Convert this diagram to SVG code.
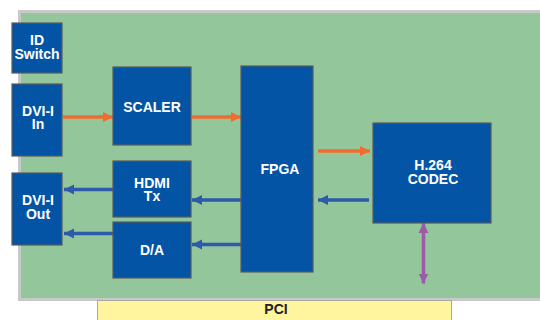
<svg xmlns="http://www.w3.org/2000/svg" width="540" height="320" viewBox="0 0 540 320">
<defs>
<style>
.box{fill:#0454A5;stroke:#5a5a5a;stroke-width:1.2}
.lbl{font-family:"Liberation Sans",Arial,sans-serif;font-weight:bold;font-size:14px;fill:#fff;text-anchor:middle}
.or{stroke:#F26B2E;stroke-width:3.5;fill:none}
.bl{stroke:#2D5AAA;stroke-width:3.5;fill:none}
.pu{stroke:#9C5AA8;stroke-width:3.5;fill:none}
</style>
<marker id="ao" markerUnits="userSpaceOnUse" markerWidth="12" markerHeight="12" refX="10" refY="5" orient="auto"><path d="M0,0 L10,5 L0,10 z" fill="#F26B2E"/></marker>
<marker id="ab" markerUnits="userSpaceOnUse" markerWidth="12" markerHeight="12" refX="10" refY="5" orient="auto"><path d="M0,0 L10,5 L0,10 z" fill="#2D5AAA"/></marker>
<marker id="ap" markerUnits="userSpaceOnUse" markerWidth="12" markerHeight="12" refX="10" refY="5" orient="auto"><path d="M0,0 L10,5 L0,10 z" fill="#9C5AA8"/></marker>
<marker id="aps" markerUnits="userSpaceOnUse" markerWidth="12" markerHeight="12" refX="0" refY="5" orient="auto"><path d="M10,0 L0,5 L10,10 z" fill="#9C5AA8"/></marker>
</defs>
<rect width="540" height="320" fill="#fff"/>
<g id="board">
<rect x="18" y="10" width="522" height="291" fill="#c8c8c8"/>
<rect x="21" y="13" width="519" height="285" fill="#94C69B"/>
</g>
<g id="pci">
<rect x="97.5" y="300.5" width="354" height="22" fill="#FFF59E" stroke="#a8a8a0" stroke-width="1"/>
<text x="276" y="313.5" class="lbl" style="fill:#222">PCI</text>
</g>
<g id="connectors">
<line x1="63" y1="117" x2="113" y2="117" class="or" marker-end="url(#ao)"/>
<line x1="192" y1="117" x2="241" y2="117" class="or" marker-end="url(#ao)"/>
<line x1="318" y1="151" x2="370" y2="151" class="or" marker-end="url(#ao)"/>
<line x1="369" y1="200" x2="318" y2="200" class="bl" marker-end="url(#ab)"/>
<line x1="241" y1="200" x2="192" y2="200" class="bl" marker-end="url(#ab)"/>
<line x1="241" y1="244.5" x2="192" y2="244.5" class="bl" marker-end="url(#ab)"/>
<line x1="113" y1="189.5" x2="64" y2="189.5" class="bl" marker-end="url(#ab)"/>
<line x1="113" y1="233.5" x2="64" y2="233.5" class="bl" marker-end="url(#ab)"/>
<line x1="423.5" y1="223" x2="423.5" y2="283.5" class="pu" marker-start="url(#aps)" marker-end="url(#ap)"/>
</g>
<g id="id-switch">
<rect x="12" y="23" width="50" height="50" class="box"/>
<text x="37" y="45" class="lbl">ID</text>
<text x="37" y="58.5" class="lbl">Switch</text>
</g>
<g id="dvi-in">
<rect x="12" y="84" width="50" height="72" class="box"/>
<text x="38" y="115.5" class="lbl">DVI-I</text>
<text x="38" y="129" class="lbl">In</text>
</g>
<g id="scaler">
<rect x="113" y="67" width="78" height="78" class="box"/>
<text x="152" y="112" class="lbl">SCALER</text>
</g>
<g id="dvi-out">
<rect x="12" y="173" width="50" height="72" class="box"/>
<text x="38" y="205" class="lbl">DVI-I</text>
<text x="38" y="219" class="lbl">Out</text>
</g>
<g id="hdmi-tx">
<rect x="113" y="161" width="78" height="56" class="box"/>
<text x="152" y="187.5" class="lbl">HDMI</text>
<text x="152" y="201" class="lbl">Tx</text>
</g>
<g id="da">
<rect x="113" y="222" width="78" height="56" class="box"/>
<text x="152" y="254.5" class="lbl">D/A</text>
</g>
<g id="fpga">
<rect x="241" y="66" width="72" height="206" class="box"/>
<text x="280" y="173.5" class="lbl">FPGA</text>
</g>
<g id="codec">
<rect x="373" y="123" width="118" height="100" class="box"/>
<text x="433" y="169.5" class="lbl">H.264</text>
<text x="433" y="184" class="lbl">CODEC</text>
</g>
</svg>
